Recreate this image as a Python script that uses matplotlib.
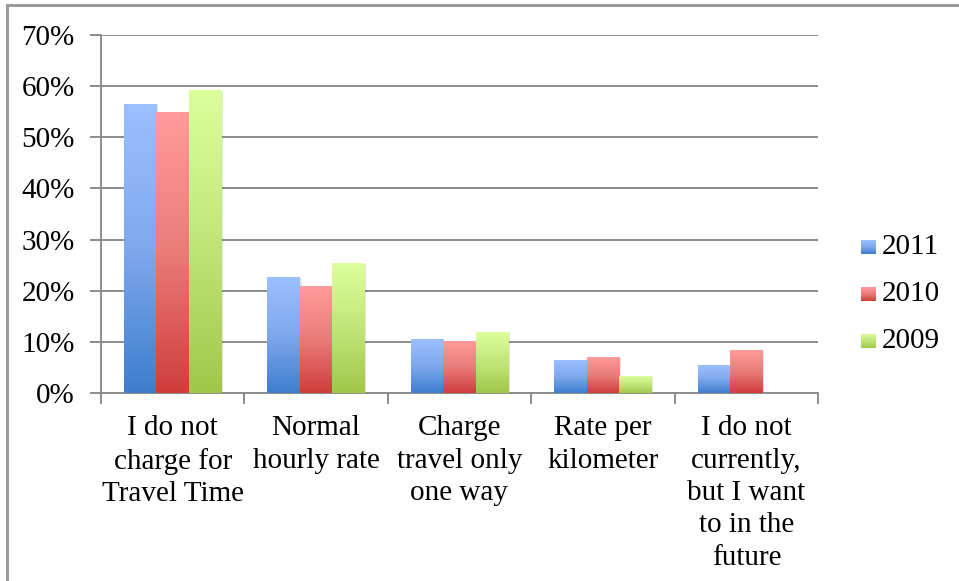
import numpy as np
import matplotlib
matplotlib.use("Agg")
import matplotlib.pyplot as plt
from matplotlib.colors import LinearSegmentedColormap
from matplotlib.patches import Rectangle

categories = ["I do not\ncharge for\nTravel Time", "Normal\nhourly rate",
              "Charge\ntravel only\none way", "Rate per\nkilometer",
              "I do not\ncurrently,\nbut I want\nto in the\nfuture"]
series_names = ["2011", "2010", "2009"]
v2011 = [0.565, 0.225, 0.104, 0.063, 0.053]
v2010 = [0.548, 0.209, 0.100, 0.070, 0.084]
v2009 = [0.591, 0.254, 0.119, 0.033, 0.0]
yticks = [0, 0.1, 0.2, 0.3, 0.4, 0.5, 0.6, 0.7]
ytick_labels = ["0%", "10%", "20%", "30%", "40%", "50%", "60%", "70%"]

values = [v2011, v2010, v2009]
grads = [("#9ac0ff", "#7fa8ee", "#3d7ecc"),
         ("#ff9c9b", "#ea7b79", "#cf3e3b"),
         ("#dcff9c", "#c2e57a", "#9fc84a")]
cmaps = [LinearSegmentedColormap.from_list("g%d" % i, c) for i, c in enumerate(grads)]

plt.rcParams['font.family'] = ['Liberation Serif', 'DejaVu Serif']
FS = 21
W, H = 959, 581
fig = plt.figure(figsize=(W / 100, H / 100), dpi=100)
ax = fig.add_axes([101 / W, 1 - 393 / H, (818 - 101) / W, (393 - 35) / H])

grid_c = "#8c8c8c"
n = len(categories)
x = np.arange(n)
bw = 0.226
grad_arr = np.linspace(0, 1, 256).reshape(-1, 1)  # top (0) -> bottom (1)

for i, (vals, cm) in enumerate(zip(values, cmaps)):
    offs = (i - 1) * bw
    bars = ax.bar(x + offs, vals, bw, color="none", edgecolor="none", zorder=3)
    for b in bars:
        h = b.get_height()
        if h <= 0:
            continue
        x0 = b.get_x()
        ax.add_patch(Rectangle((x0 + 0.012, 0), bw, h - 0.002, facecolor="#000000",
                               alpha=0.10, edgecolor="none", zorder=2.5))
        ax.imshow(grad_arr, cmap=cm, extent=(x0, x0 + bw, 0, h), aspect="auto",
                  origin="upper", zorder=3, interpolation="bilinear")

ax.set_xlim(-0.5, n - 0.5)
ax.set_ylim(0, 0.7)
ax.set_yticks(yticks)
ax.set_yticklabels(ytick_labels)
ax.yaxis.grid(True, color=grid_c, linewidth=1.4, zorder=0)
ax.set_axisbelow(True)
ax.set_xticks(np.arange(n + 1) - 0.5)
ax.set_xticklabels([])
ax.tick_params(axis="y", length=8, width=1.4, color=grid_c, pad=11, labelsize=FS)
ax.tick_params(axis="x", length=8, width=1.4, color=grid_c)
for s in ["top", "right"]:
    ax.spines[s].set_visible(False)
for s in ["left", "bottom"]:
    ax.spines[s].set_color(grid_c)
    ax.spines[s].set_linewidth(1.4)

for xi, lab in zip(x, categories):
    ax.annotate(lab, xy=(xi, 0), xycoords=("data", "axes fraction"),
                xytext=(0, -16), textcoords="offset points",
                ha="center", va="top", fontsize=FS, linespacing=1.32)

# legend
leg_y = [247, 294, 341]
for name, cm, yc in zip(series_names, cmaps, leg_y):
    lax = fig.add_axes([861 / W, 1 - (yc + 7) / H, 15 / W, 14 / H])
    lax.imshow(grad_arr, cmap=cm, aspect="auto", extent=(0, 1, 0, 1))
    lax.set_axis_off()
    fig.text(882 / W, 1 - yc / H, name, fontsize=FS, va="center", ha="left")

# outer frame
fig.patches.append(Rectangle((6.5 / W, -0.1), 1.2, 1 - 5 / H + 0.1, transform=fig.transFigure,
                             facecolor="none", edgecolor="#9a9a9a", linewidth=2.2))

fig.savefig("out.png", dpi=100)
